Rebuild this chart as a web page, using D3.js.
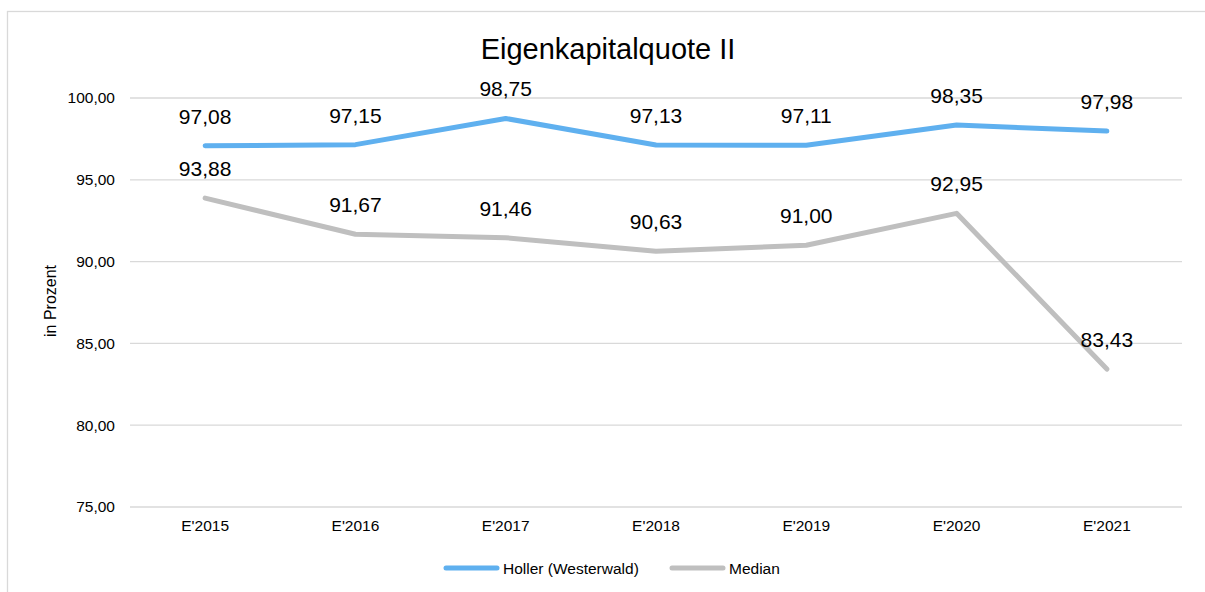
<!DOCTYPE html>
<html>
<head>
<meta charset="utf-8">
<script src="https://cdn.jsdelivr.net/npm/d3@7"></script>
<style>
  body { margin: 0; background: #fff; font-family: "Liberation Sans", Arial, sans-serif; }
  .grid line { stroke: #d9d9d9; stroke-width: 1.3; }
  .axis text { fill: #000; font-size: 15.5px; font-family: "Liberation Sans", Arial, sans-serif; }
</style>
</head>
<body>
<div id="chart"></div>
<script>
const categories = ["E'2015", "E'2016", "E'2017", "E'2018", "E'2019", "E'2020", "E'2021"]
const holler = [97.08, 97.15, 98.75, 97.13, 97.11, 98.35, 97.98]
const median = [93.88, 91.67, 91.46, 90.63, 91.00, 92.95, 83.43]
const yTicks = [75, 80, 85, 90, 95, 100]
const seriesNames = ["Holler (Westerwald)", "Median"]
const colors = ["#5fb0ef", "#bfbfbf"]

const width = 1205
const height = 592
const margin = {top: 98, bottom: 85, left: 130, right: 23}
const w = width - margin.left - margin.right
const h = height - margin.top - margin.bottom

const fmt = v => d3.format(".2f")(v).replace(".", ",")

const root = d3.select("#chart")
    .append("svg")
    .attr("width", width)
    .attr("height", height)

// chart frame
root.append("rect")
    .attr("x", 7.5)
    .attr("y", 11.5)
    .attr("width", width + 20)
    .attr("height", height + 20)
    .attr("fill", "none")
    .attr("stroke", "#d9d9d9")
    .attr("stroke-width", 1.3)

root.append("text")
    .attr("x", 608)
    .attr("y", 59)
    .attr("text-anchor", "middle")
    .attr("font-size", "29px")
    .text("Eigenkapitalquote II")

root.append("text")
    .attr("transform", `translate(56, 301) rotate(-90)`)
    .attr("text-anchor", "middle")
    .attr("font-size", "16px")
    .text("in Prozent")

const svg = root.append("g")
    .attr("transform", `translate(${margin.left}, ${margin.top})`)

const xScale = d3.scaleBand()
    .domain(categories)
    .range([0, w])

const yScale = d3.scaleLinear()
    .domain([75, 100])
    .range([h, 0])

svg.append("g")
    .attr("class", "grid")
    .selectAll("line")
    .data(yTicks)
    .join("line")
    .attr("x1", 0)
    .attr("x2", w)
    .attr("y1", d => yScale(d))
    .attr("y2", d => yScale(d))

const yAxis = d3.axisLeft(yScale)
    .tickValues(yTicks)
    .tickFormat(fmt)
    .tickSize(0)
    .tickPadding(15)

svg.append("g")
    .attr("class", "axis y-axis")
    .call(yAxis)
    .call(g => g.select(".domain").remove())

const xAxis = d3.axisBottom(xScale)
    .tickSize(0)
    .tickPadding(13)

svg.append("g")
    .attr("class", "axis x-axis")
    .attr("transform", `translate(0, ${h})`)
    .call(xAxis)
    .call(g => g.select(".domain").remove())

const line = d3.line()
    .x((d, i) => xScale(categories[i]) + xScale.bandwidth() / 2)
    .y(d => yScale(d))

const series = [holler, median]

series.forEach((values, s) => {
    svg.append("path")
        .datum(values)
        .attr("fill", "none")
        .attr("stroke", colors[s])
        .attr("stroke-width", 5)
        .attr("stroke-linecap", "round")
        .attr("stroke-linejoin", "round")
        .attr("d", line)
})

series.forEach((values, s) => {
    svg.append("g")
        .selectAll("text")
        .data(values)
        .join("text")
        .attr("x", (d, i) => xScale(categories[i]) + xScale.bandwidth() / 2)
        .attr("y", d => yScale(d) - 22)
        .attr("text-anchor", "middle")
        .attr("font-size", "21px")
        .text(fmt)
})

// legend
const legend = root.append("g")
    .attr("transform", `translate(0, 568)`)

const legendX = [444, 670]
seriesNames.forEach((name, i) => {
    legend.append("line")
        .attr("x1", legendX[i] + 2)
        .attr("x2", legendX[i] + 53)
        .attr("stroke", colors[i])
        .attr("stroke-width", 5)
        .attr("stroke-linecap", "round")
    legend.append("text")
        .attr("x", legendX[i] + 59)
        .attr("y", 5.5)
        .attr("font-size", "15.5px")
        .text(name)
})
</script>
</body>
</html>
